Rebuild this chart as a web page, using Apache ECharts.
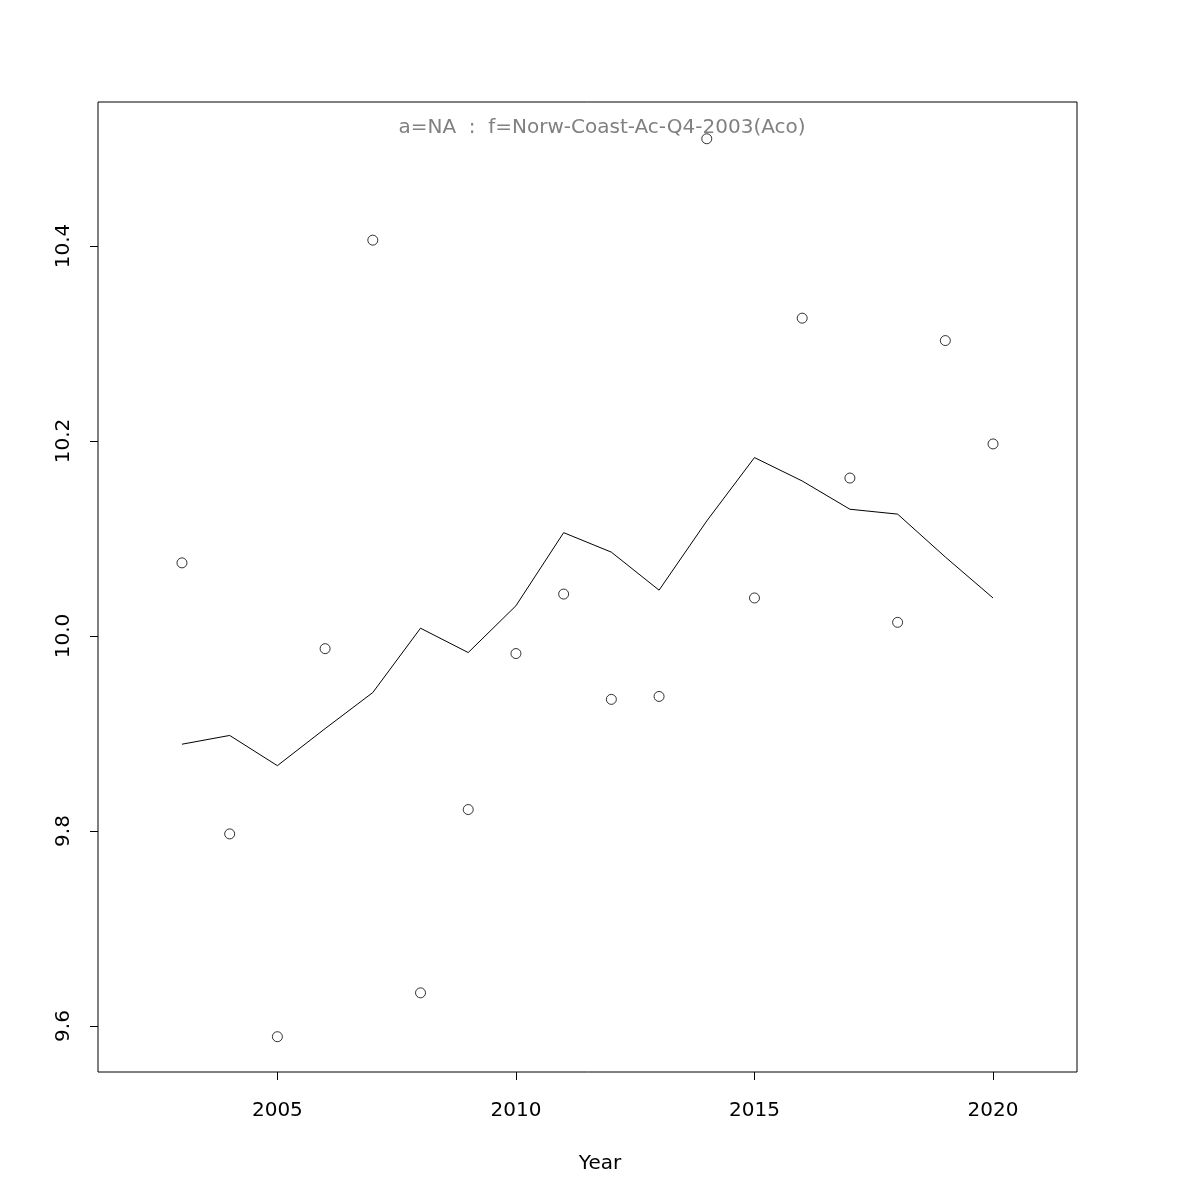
<!DOCTYPE html>
<html><head><meta charset="utf-8">
<script src="https://cdn.jsdelivr.net/npm/echarts@6/dist/echarts.min.js"></script>
<style>html,body{margin:0;padding:0;background:#fff}#c{width:1200px;height:1200px}</style>
</head><body><div id="c"></div>
<script>
const years = [2003,2004,2005,2006,2007,2008,2009,2010,2011,2012,2013,2014,2015,2016,2017,2018,2019,2020];
const observed = [10.075,9.797,9.589,9.987,10.406,9.634,9.822,9.982,10.043,9.935,9.938,10.510,10.039,10.326,10.162,10.014,10.303,10.197];
const fitted = [9.889,9.898,9.867,9.905,9.942,10.008,9.983,10.031,10.106,10.086,10.047,10.118,10.183,10.159,10.130,10.125,10.081,10.039];
const xTicks = [2005,2010,2015,2020];
const yTicks = [9.6,9.8,10.0,10.2,10.4];
const titleText = 'a=NA  :  f=Norw-Coast-Ac-Q4-2003(Aco)';
const xName = 'Year';

const font = 'DejaVu Sans';
const chart = echarts.init(document.getElementById('c'), null, {renderer:'canvas'});
chart.setOption({
  animation:false,
  backgroundColor:'#fff',
  title:{text:titleText, left:597, top:113, textAlign:'center',
    textStyle:{fontFamily:font,fontSize:20,fontWeight:'normal',color:'#808080'}},
  graphic:[{type:'text', left:'center', top:1154, style:{text:xName, x:600, fontFamily:font, fontSize:20, fill:'#000', textAlign:'center'}, position:[13,0]}],
  grid:{left:98, top:102, width:979, height:970, show:true, borderColor:'#000', borderWidth:1, backgroundColor:'transparent'},
  xAxis:{type:'value', min:2001.24, max:2021.76,
    axisLine:{show:false},
    splitLine:{show:false},
    axisTick:{show:true, inside:false, length:8, customValues:xTicks, lineStyle:{color:'#000'}},
    axisLabel:{show:true, customValues:xTicks, margin:29, fontFamily:font, fontSize:20, color:'#000', formatter:v=>String(v)}
  },
  yAxis:{type:'value', min:9.5528, max:10.5477,
    axisLine:{show:false},
    splitLine:{show:false},
    axisTick:{show:true, inside:false, length:8, customValues:yTicks, lineStyle:{color:'#000'}},
    axisLabel:{show:true, customValues:yTicks, rotate:90, margin:24, fontFamily:font, fontSize:20, color:'#000', formatter:v=>v.toFixed(1)}
  },
  series:[
    {type:'line', data:years.map((y,i)=>[y,fitted[i]]), symbol:'none', lineStyle:{color:'#000',width:1}},
    {type:'scatter', data:years.map((y,i)=>[y,observed[i]]), symbol:'circle', symbolSize:10,
      itemStyle:{color:'transparent', borderColor:'#000', borderWidth:1}}
  ]
});
</script></body></html>
